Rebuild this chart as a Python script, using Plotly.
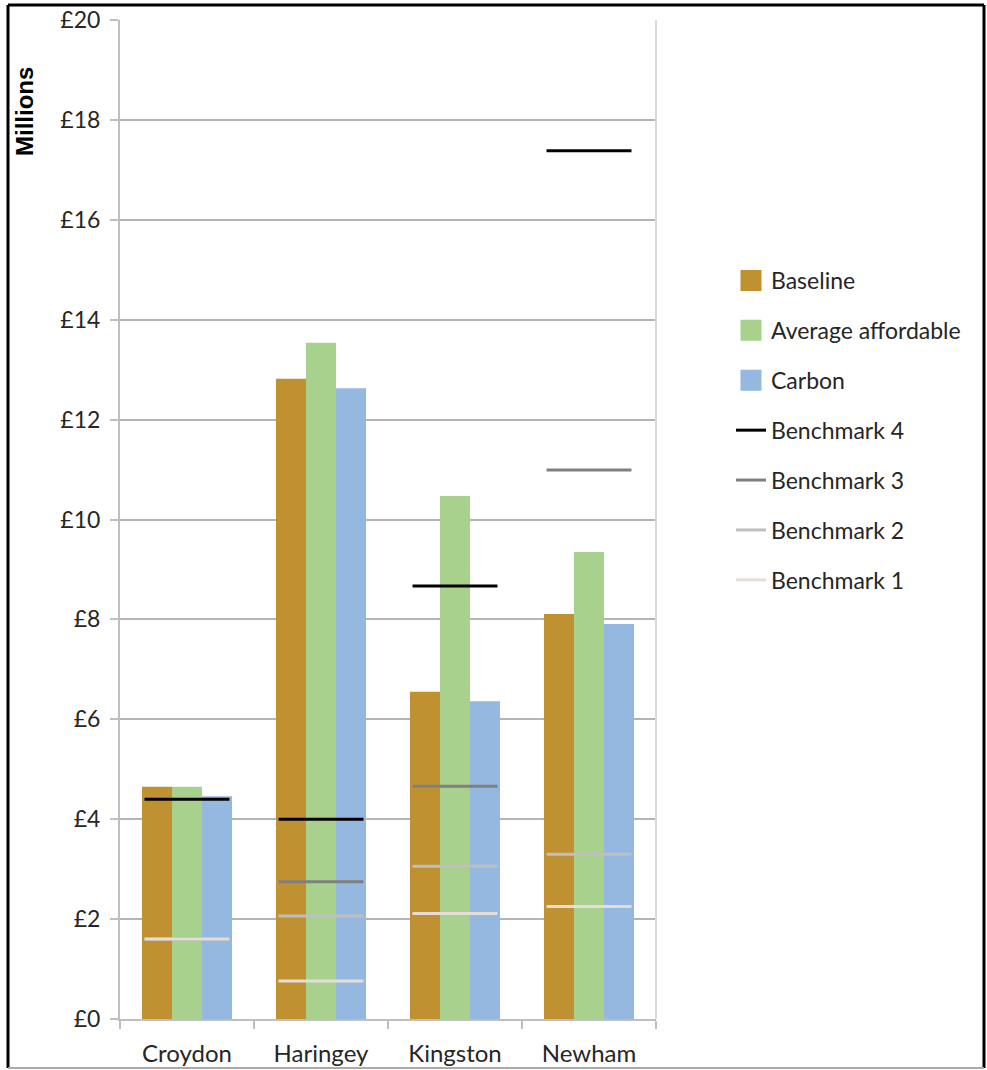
import plotly.graph_objects as go

categories = ["Croydon", "Haringey", "Kingston", "Newham"]
baseline = [4.65, 12.82, 6.55, 8.11]
average_affordable = [4.65, 13.54, 10.47, 9.35]
carbon = [4.46, 12.63, 6.36, 7.91]

benchmark4 = [4.40, 4.00, 8.67, 17.38]
benchmark3 = [1.60, 2.75, 4.66, 10.99]
benchmark2 = [1.60, 2.06, 3.06, 3.30]
benchmark1 = [1.60, 0.76, 2.11, 2.25]

y_tickvals = [0, 2, 4, 6, 8, 10, 12, 14, 16, 18, 20]
y_ticktext = ["£0", "£2", "£4", "£6", "£8", "£10", "£12", "£14", "£16", "£18", "£20"]

FONT = "Lato"
TXT = "#262626"
W, H = 987, 1070
L, R, T, B = 120, 656, 20, 1019

fig = go.Figure()

bar_specs = [
    ("Baseline", baseline, "#BF9130"),
    ("Average affordable", average_affordable, "#A9D18E"),
    ("Carbon", carbon, "#95B8E0"),
]
for name, vals, col in bar_specs:
    fig.add_trace(go.Bar(x=categories, y=vals, name=name, marker_color=col,
                         marker_line_width=0, xaxis="x", yaxis="y",
                         showlegend=False, legendgroup=name))
    # legend-only entry with a larger square swatch
    fig.add_trace(go.Scatter(x=[None], y=[None], mode="markers", name=name,
                             marker=dict(symbol="square", size=16, color=col,
                                         line=dict(color=col, width=5)),
                             xaxis="x2", yaxis="y", legendgroup=name))

half = 0.317
bench_specs = [
    ("Benchmark 4", benchmark4, "#000000"),
    ("Benchmark 3", benchmark3, "#808080"),
    ("Benchmark 2", benchmark2, "#BFBFBF"),
    ("Benchmark 1", benchmark1, "#E6DDD8"),
]
for name, vals, col in bench_specs:
    xs, ys = [], []
    for i, v in enumerate(vals):
        xs += [i - half, i + half, None]
        ys += [v, v, None]
    fig.add_trace(go.Scatter(x=xs, y=ys, mode="lines", name=name,
                             line=dict(color=col, width=3),
                             xaxis="x2", yaxis="y", legendgroup=name))

def px_x(p):
    return (p - L) / (R - L)

def px_y(p):
    return (B - p) / (B - T)

fig.update_layout(
    width=W, height=H,
    margin=dict(l=L, r=W - R, t=T, b=H - B, pad=0, autoexpand=False),
    paper_bgcolor="white", plot_bgcolor="white",
    font=dict(family=FONT, size=22, color=TXT),
    barmode="group", bargap=0.328, bargroupgap=0,
    xaxis=dict(
        type="category", tickson="boundaries", ticks="outside", ticklen=8,
        tickcolor="#BFBFBF", tickwidth=2, showline=True, linecolor="#BFBFBF",
        linewidth=2, showgrid=False, tickfont=dict(size=24, family=FONT, color=TXT),
        range=[-0.5, 3.5], ticklabelstandoff=12, automargin=False,
    ),
    xaxis2=dict(overlaying="x", range=[-0.5, 3.5], visible=False, showgrid=False),
    yaxis=dict(
        range=[0, 20], tickvals=y_tickvals, ticktext=y_ticktext,
        showgrid=True, gridcolor="#B4B4B4", gridwidth=2,
        showline=True, linecolor="#BFBFBF", linewidth=2,
        ticks="outside", ticklen=8, tickcolor="#BFBFBF", tickwidth=2,
        tickfont=dict(size=23, family=FONT, color=TXT),
        zeroline=False, ticklabelstandoff=5, automargin=False,
    ),
    legend=dict(
        x=px_x(731), y=px_y(259), xanchor="left", yanchor="top",
        font=dict(size=23, family=FONT, color=TXT),
        tracegroupgap=17, itemwidth=30, bgcolor="rgba(0,0,0,0)",
        traceorder="grouped",
    ),
    showlegend=True,
)

# y-axis title
fig.add_annotation(text="<b>Millions</b>", textangle=-90, xref="paper", yref="paper",
                   x=px_x(24), y=px_y(112), xanchor="center", yanchor="middle",
                   showarrow=False,
                   font=dict(size=24, family="Liberation Sans", color="#000000"))

# right plot border line
fig.add_shape(type="line", xref="paper", yref="paper", x0=1, x1=1, y0=0, y1=1,
              line=dict(color="#D9D9D9", width=2))

# outer image border
bl, br, bt, bb = px_x(8), px_x(984), px_y(5), px_y(1068)
fig.add_shape(type="line", xref="paper", yref="paper", x0=bl, x1=br, y0=bt, y1=bt,
              line=dict(color="#000000", width=3))
fig.add_shape(type="line", xref="paper", yref="paper", x0=bl, x1=bl, y0=bt, y1=bb,
              line=dict(color="#000000", width=3))
fig.add_shape(type="line", xref="paper", yref="paper", x0=br, x1=br, y0=bt, y1=bb,
              line=dict(color="#000000", width=3))
fig.add_shape(type="line", xref="paper", yref="paper", x0=bl, x1=br, y0=bb, y1=bb,
              line=dict(color="#AAAAAA", width=2))

fig.write_html("out.html")
